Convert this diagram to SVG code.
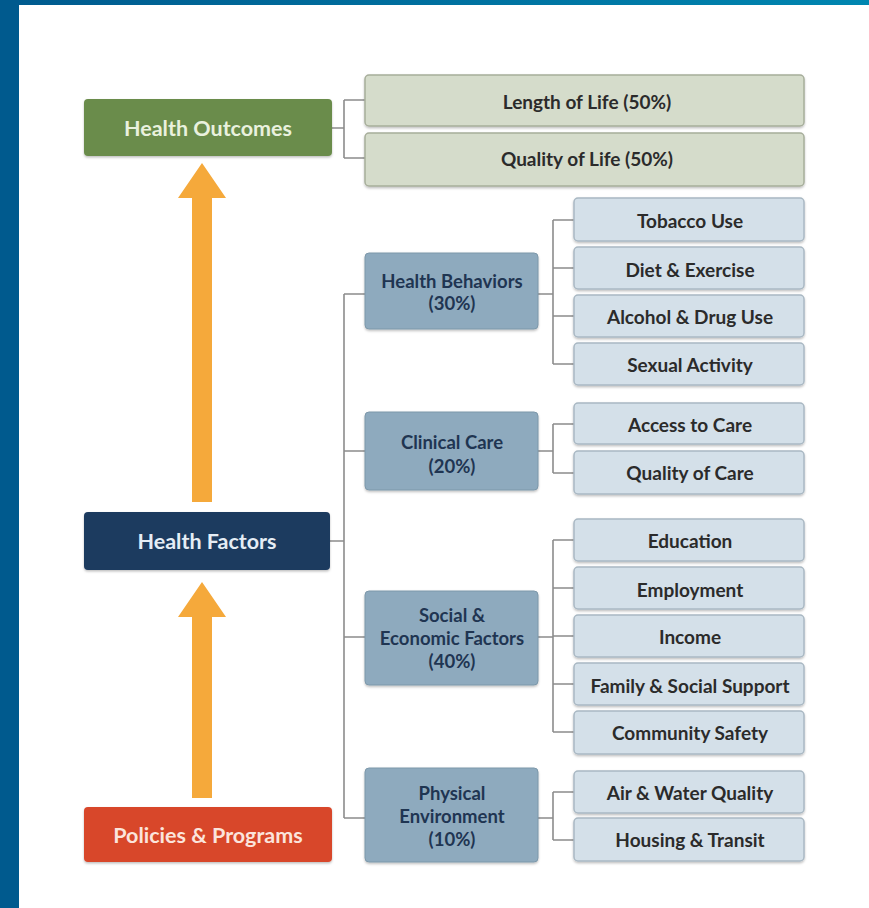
<svg xmlns="http://www.w3.org/2000/svg" width="869" height="908" viewBox="0 0 869 908">
<defs>
<linearGradient id="topbar" x1="0" y1="0" x2="1" y2="0">
<stop offset="0" stop-color="#005a8e"/>
<stop offset="1" stop-color="#0086b0"/>
</linearGradient>
<filter id="sh" x="-5%" y="-10%" width="110%" height="130%">
<feDropShadow dx="0" dy="1.5" stdDeviation="1.2" flood-color="#000" flood-opacity="0.25"/>
</filter>
</defs>
<style>
text{font-family:Lato,"Open Sans","Liberation Sans",sans-serif;font-weight:bold;text-anchor:middle;dominant-baseline:central}
.top{font-size:21.5px}
.out{fill:#d5dccb;stroke:#a7ae9b;stroke-width:1.5}
.cat{fill:#8eaabe;stroke:#7d98aa;stroke-width:1}
.leaf{fill:#d4e0e9;stroke:#a9b8c3;stroke-width:1.5}
.lt{font-size:19px;fill:#2b2b2b}
.ct{font-size:18.5px;fill:#1f3552}
.conn{fill:none;stroke:#8c8c8c;stroke-width:1.6}
.arrow{fill:#f5a93b}
</style>
<rect x="0" y="0" width="869" height="908" fill="#ffffff"/>
<rect x="0" y="0" width="869" height="5" fill="url(#topbar)"/>
<rect x="0" y="0" width="19" height="908" fill="#005a8e"/>

<g id="connectors">
<path class="conn" d="M332,128 H344 M344,100 V158 M344,100 H365 M344,158 H365"/>
<path class="conn" d="M330,541 H344 M344,294 V818 M344,294 H365 M344,451 H365 M344,637 H365 M344,818 H365"/>
<path class="conn" d="M538,294 H553 M553,220 V364 M553,220 H574 M553,268 H574 M553,316 H574 M553,364 H574"/>
<path class="conn" d="M538,451 H553 M553,424 V473 M553,424 H574 M553,473 H574"/>
<path class="conn" d="M538,637 H553 M553,540 V732 M553,540 H574 M553,588 H574 M553,636 H574 M553,684 H574 M553,732 H574"/>
<path class="conn" d="M538,818 H553 M553,792 V840 M553,792 H574 M553,840 H574"/>
</g>

<g id="arrow-upper"><polygon class="arrow" points="202,163 226,198 212,198 212,502 192,502 192,198 178,198"/></g>
<g id="arrow-lower"><polygon class="arrow" points="202,582 226,617 212,617 212,798 192,798 192,617 178,617"/></g>

<g id="health-outcomes"><rect x="84" y="99" width="248" height="57" rx="4" fill="#6a8c4b" filter="url(#sh)"/><text class="top" x="208" y="128" fill="#e9f1de">Health Outcomes</text></g>
<g id="health-factors"><rect x="84" y="512" width="246" height="58" rx="4" fill="#1c3a5f" filter="url(#sh)"/><text class="top" x="207" y="541" fill="#e5edf5">Health Factors</text></g>
<g id="policies-programs"><rect x="84" y="807" width="248" height="55" rx="4" fill="#d8462b" filter="url(#sh)"/><text class="top" x="208" y="835" fill="#fbe4dc">Policies &amp; Programs</text></g>

<g id="length-of-life"><rect class="out" x="365" y="75" width="439" height="51" rx="4" filter="url(#sh)"/><text class="lt" x="587" y="101">Length of Life (50%)</text></g>
<g id="quality-of-life"><rect class="out" x="365" y="133" width="439" height="53" rx="4" filter="url(#sh)"/><text class="lt" x="587" y="158">Quality of Life (50%)</text></g>

<g id="health-behaviors"><rect class="cat" x="365" y="253" width="173" height="76" rx="4" filter="url(#sh)"/><text class="ct" x="452" y="281">Health Behaviors</text><text class="ct" x="452" y="303">(30%)</text></g>
<g id="clinical-care"><rect class="cat" x="365" y="412" width="173" height="78" rx="4" filter="url(#sh)"/><text class="ct" x="452" y="442">Clinical Care</text><text class="ct" x="452" y="466">(20%)</text></g>
<g id="social-economic"><rect class="cat" x="365" y="591" width="173" height="94" rx="4" filter="url(#sh)"/><text class="ct" x="452" y="615">Social &amp;</text><text class="ct" x="452" y="638">Economic Factors</text><text class="ct" x="452" y="661">(40%)</text></g>
<g id="physical-environment"><rect class="cat" x="365" y="768" width="173" height="94" rx="4" filter="url(#sh)"/><text class="ct" x="452" y="793">Physical</text><text class="ct" x="452" y="816">Environment</text><text class="ct" x="452" y="839">(10%)</text></g>

<g id="tobacco-use"><rect class="leaf" x="574" y="198" width="230" height="43" rx="4" filter="url(#sh)"/><text class="lt" x="690" y="220">Tobacco Use</text></g>
<g id="diet-exercise"><rect class="leaf" x="574" y="247" width="230" height="42" rx="4" filter="url(#sh)"/><text class="lt" x="690" y="269">Diet &amp; Exercise</text></g>
<g id="alcohol-drug-use"><rect class="leaf" x="574" y="295" width="230" height="42" rx="4" filter="url(#sh)"/><text class="lt" x="690" y="316">Alcohol &amp; Drug Use</text></g>
<g id="sexual-activity"><rect class="leaf" x="574" y="343" width="230" height="42" rx="4" filter="url(#sh)"/><text class="lt" x="690" y="364">Sexual Activity</text></g>
<g id="access-to-care"><rect class="leaf" x="574" y="403" width="230" height="41" rx="4" filter="url(#sh)"/><text class="lt" x="690" y="424">Access to Care</text></g>
<g id="quality-of-care"><rect class="leaf" x="574" y="451" width="230" height="43" rx="4" filter="url(#sh)"/><text class="lt" x="690" y="472">Quality of Care</text></g>
<g id="education"><rect class="leaf" x="574" y="519" width="230" height="42" rx="4" filter="url(#sh)"/><text class="lt" x="690" y="540">Education</text></g>
<g id="employment"><rect class="leaf" x="574" y="567" width="230" height="42" rx="4" filter="url(#sh)"/><text class="lt" x="690" y="589">Employment</text></g>
<g id="income"><rect class="leaf" x="574" y="615" width="230" height="42" rx="4" filter="url(#sh)"/><text class="lt" x="690" y="636">Income</text></g>
<g id="family-social-support"><rect class="leaf" x="574" y="663" width="230" height="42" rx="4" filter="url(#sh)"/><text class="lt" x="690" y="685">Family &amp; Social Support</text></g>
<g id="community-safety"><rect class="leaf" x="574" y="711" width="230" height="43" rx="4" filter="url(#sh)"/><text class="lt" x="690" y="732">Community Safety</text></g>
<g id="air-water-quality"><rect class="leaf" x="574" y="771" width="230" height="42" rx="4" filter="url(#sh)"/><text class="lt" x="690" y="792">Air &amp; Water Quality</text></g>
<g id="housing-transit"><rect class="leaf" x="574" y="818" width="230" height="43" rx="4" filter="url(#sh)"/><text class="lt" x="690" y="839">Housing &amp; Transit</text></g>
</svg>
